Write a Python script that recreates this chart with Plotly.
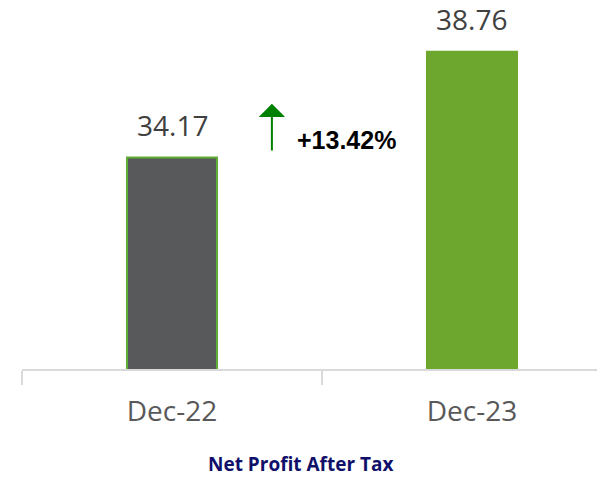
import plotly.graph_objects as go

categories = ["Dec-22", "Dec-23"]
values = [34.17, 38.76]
bar_colors = ["#58595B", "#6EA72E"]
line_colors = ["#5FAE36", "#6EA72E"]
change_label = "+13.42%"
title_text = "Net Profit After Tax"

fig = go.Figure()
fig.add_trace(go.Bar(
    x=categories, y=values,
    marker=dict(color=bar_colors, line=dict(color=line_colors, width=2)),
    width=0.3,
    cliponaxis=False,
))

# value labels
for c, v in zip(categories, values):
    fig.add_annotation(x=c, y=v, xref="x", yref="y", text=f"{v:.2f}",
                       showarrow=False, xanchor="center", yanchor="bottom", yshift=12,
                       font=dict(family="Open Sans", size=28, color="#404040"))

# growth arrow
fig.add_annotation(x=0.333, y=36.5, ax=0.333, ay=34.41, xref="x", yref="y",
                   axref="x", ayref="y", text="", showarrow=True,
                   arrowhead=1, arrowsize=2.2, arrowwidth=2, arrowcolor="#008000")
fig.add_annotation(x=0.41, y=34.93, xref="x", yref="y", text=f"<b>{change_label}</b>",
                   showarrow=False, xanchor="left", yanchor="middle",
                   font=dict(family="Liberation Sans", size=25, color="#000000"))
fig.add_annotation(x=0.485, y=-0.257, xref="paper", yref="paper", text=f"<b>{title_text}</b>",
                   showarrow=False, xanchor="center", yanchor="middle", borderpad=0,
                   font=dict(family="Open Sans", size=19, color="#10106B"))

fig.update_layout(
    width=597, height=479,
    margin=dict(l=22, r=0, t=0, b=110, autoexpand=False),
    plot_bgcolor="white", paper_bgcolor="white",
    showlegend=False,
    xaxis=dict(type="category", range=[-0.5, 1.4167], tickson="boundaries",
               showline=True, linecolor="#D9D9D9", linewidth=2,
               ticks="outside", ticklen=14, tickcolor="#D9D9D9", tickwidth=2,
               showgrid=False, ticklabelstandoff=16,
               tickfont=dict(family="Open Sans", size=28, color="#595959")),
    yaxis=dict(range=[25, 41], visible=False, showgrid=False, zeroline=False),
)

fig.write_html("out.html", config={"displayModeBar": False},
               post_script="document.body.style.margin='0';document.body.style.overflow='hidden';")
